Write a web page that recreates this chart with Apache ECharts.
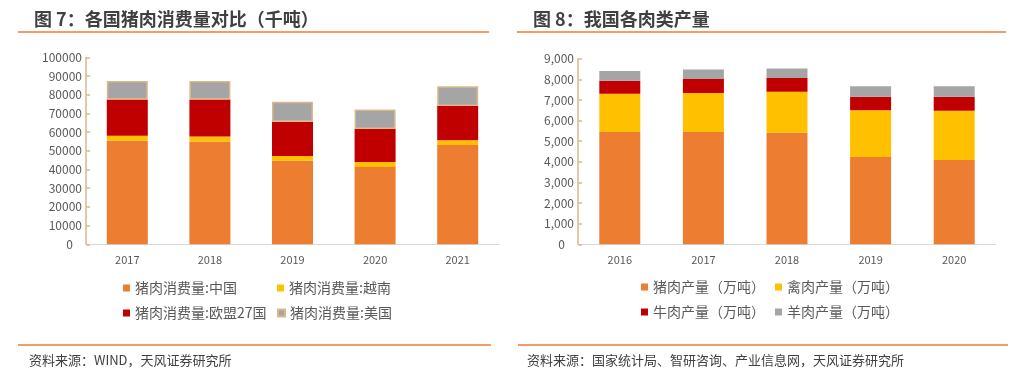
<!DOCTYPE html>
<html><head><meta charset="utf-8">
<script src="https://cdn.jsdelivr.net/npm/echarts@6/dist/echarts.min.js"></script>
<style>html,body{margin:0;padding:0;background:#fff}#c{width:1016px;height:380px}</style>
</head><body><div id="c"></div>
<script>
// Left chart: 各国猪肉消费量（千吨）
const catsL = ['2017', '2018', '2019', '2020', '2021'];
const chinaCons = [55400, 55000, 44700, 41300, 53100];
const vietnamCons = [2600, 2700, 2500, 2700, 2600];
const euCons = [19500, 19800, 18300, 17600, 18300];
const usCons = [9800, 9800, 10700, 10500, 10500];
const namesL = ['猪肉消费量:中国', '猪肉消费量:越南', '猪肉消费量:欧盟27国', '猪肉消费量:美国'];

// Right chart: 我国各肉类产量（万吨）
const catsR = ['2016', '2017', '2018', '2019', '2020'];
const porkProd = [5440, 5440, 5410, 4230, 4090];
const poultryProd = [1860, 1900, 1990, 2270, 2380];
const beefProd = [630, 670, 660, 660, 690];
const muttonProd = [470, 470, 470, 500, 500];
const namesR = ['猪肉产量（万吨）', '禽肉产量（万吨）', '牛肉产量（万吨）', '羊肉产量（万吨）'];

const colors = ['#ED7D31', '#FFC000', '#C00000', '#A5A5A5'];
const FONT = '"Noto Sans CJK SC", "Noto Sans", sans-serif';
const axisTan = '#D9B98A';

const chart = echarts.init(document.getElementById('c'), null, {renderer: 'canvas'});

function yAxisCfg(gi, max, interval, fmt, fs) {
  return {
    type: 'value', gridIndex: gi, min: 0, max: max, interval: interval,
    axisLine: {show: true, lineStyle: {color: axisTan, width: 1.5}},
    axisTick: {show: true, inside: true, length: 4, lineStyle: {color: axisTan, width: 1.5}},
    splitLine: {show: false},
    axisLabel: {
      color: '#595959', fontSize: fs, fontFamily: FONT, margin: 4,
      formatter: function (v) { return v === 0 ? '{z|0}' : fmt(v); },
      rich: {z: {padding: [0, 9, 0, 0], color: '#595959', fontSize: fs, fontFamily: FONT}}
    }
  };
}
function xAxisCfg(gi, cats) {
  return {
    type: 'category', gridIndex: gi, data: cats,
    axisLine: {show: true, lineStyle: {color: '#D9D9D9', width: 1}},
    axisTick: {show: false},
    axisLabel: {color: '#595959', fontSize: 11, fontFamily: FONT, margin: 10}
  };
}
function barSeries(name, data, color, xi, stack, border) {
  const s = {
    name: name, type: 'bar', stack: stack, data: data, barWidth: 41,
    xAxisIndex: xi, yAxisIndex: xi,
    itemStyle: {color: color}
  };
  if (border) { s.itemStyle.borderColor = border; s.itemStyle.borderWidth = 1.5; }
  return s;
}
function legendItem(name, left, top) {
  return {
    data: [name], left: left, top: top, icon: 'rect', itemWidth: 7, itemHeight: 7,
    itemGap: 0, selectedMode: false, padding: 0,
    textStyle: {color: '#595959', fontSize: 14, fontFamily: FONT, padding: [0, 0, 0, 0]}
  };
}

const option = {
  animation: false,
  textStyle: {fontFamily: FONT},
  title: [
    {text: '图 7：各国猪肉消费量对比（千吨）', left: 29, top: 5,
     textStyle: {color: '#404040', fontSize: 18, fontWeight: 'bold', fontFamily: FONT}},
    {text: '图 8：我国各肉类产量', left: 528, top: 5,
     textStyle: {color: '#404040', fontSize: 18, fontWeight: 'bold', fontFamily: FONT}}
  ],
  grid: [
    {left: 86, top: 57.3, width: 413, height: 187},
    {left: 578, top: 58.7, width: 418, height: 185.6}
  ],
  xAxis: [xAxisCfg(0, catsL), xAxisCfg(1, catsR)],
  yAxis: [
    yAxisCfg(0, 100000, 10000, function (v) { return String(v); }, 12),
    yAxisCfg(1, 9000, 1000, function (v) { return v.toLocaleString('en-US'); }, 12)
  ],
  legend: [
    legendItem(namesL[0], 123, 281),
    legendItem(namesL[1], 277, 281),
    legendItem(namesL[2], 123, 306),
    legendItem(namesL[3], 277, 306),
    legendItem(namesR[0], 641, 280),
    legendItem(namesR[1], 775, 280),
    legendItem(namesR[2], 641, 305),
    legendItem(namesR[3], 775, 305)
  ],
  series: [
    barSeries(namesL[0], chinaCons, colors[0], 0, 'L'),
    barSeries(namesL[1], vietnamCons, colors[1], 0, 'L'),
    barSeries(namesL[2], euCons, colors[2], 0, 'L'),
    barSeries(namesL[3], usCons, colors[3], 0, 'L', axisTan),
    barSeries(namesR[0], porkProd, colors[0], 1, 'R'),
    barSeries(namesR[1], poultryProd, colors[1], 1, 'R'),
    barSeries(namesR[2], beefProd, colors[2], 1, 'R'),
    barSeries(namesR[3], muttonProd, colors[3], 1, 'R')
  ],
  graphic: [
    {type: 'line', shape: {x1: 18, y1: 32, x2: 489, y2: 32}, style: {stroke: '#ED7D31', lineWidth: 1.5}},
    {type: 'line', shape: {x1: 517, y1: 32, x2: 1006, y2: 32}, style: {stroke: '#ED7D31', lineWidth: 1.5}},
    {type: 'line', shape: {x1: 18, y1: 345, x2: 491, y2: 345}, style: {stroke: '#ED7D31', lineWidth: 1.5}},
    {type: 'line', shape: {x1: 518, y1: 345, x2: 1008, y2: 345}, style: {stroke: '#ED7D31', lineWidth: 1.5}},
    {type: 'text', left: 29, top: 354, style: {text: '资料来源：WIND，天风证券研究所', fill: '#404040', font: '13px ' + FONT}},
    {type: 'text', left: 527, top: 354, style: {text: '资料来源：国家统计局、智研咨询、产业信息网，天风证券研究所', fill: '#404040', font: '13px ' + FONT}}
  ]
};
chart.setOption(option);
</script></body></html>
